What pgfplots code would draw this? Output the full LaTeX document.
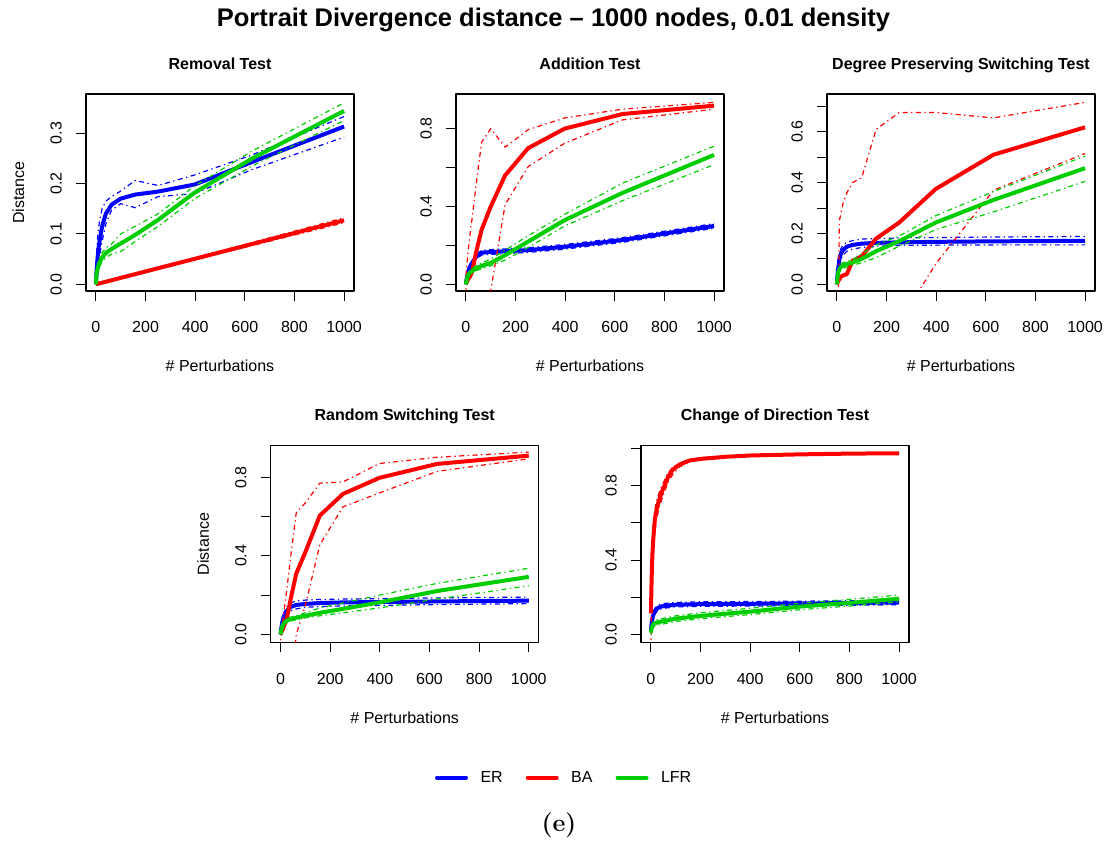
\documentclass[border=0pt]{standalone}
\usepackage{fontspec}
\usepackage{pgfplots}
\pgfplotsset{compat=1.18}
\newfontfamily\helv[Ligatures=TeX]{Liberation Sans}
\definecolor{rblue}{RGB}{0,0,255}
\definecolor{rred}{RGB}{255,0,0}
\definecolor{rgreen}{RGB}{0,205,0}
\newcommand{\lab}{\helv\fontsize{16}{19}\selectfont}
\pgfplotsset{
  panel/.style={
    scale only axis, width=268pt, height=197pt, anchor=south west,
    xmin=-40, xmax=1040,
    xtick={0,200,400,600,800,1000},
    xticklabels={0,200,400,600,800,1000},
    tick align=outside, major tick length=10pt,
    xtick pos=bottom, ytick pos=left,
    axis line style={line width=1.1pt},
    every tick/.style={black, line width=1.1pt},
    tick label style={font=\lab},
    /pgf/number format/assume math mode=true,
    xticklabel style={anchor=base, yshift=-31.7pt},
    yticklabel style={xshift=-14.3pt, rotate=90, anchor=base},
    title style={font=\helv\bfseries\fontsize{16}{19}\selectfont, at={(axis description cs:0.5,1.1254)}, anchor=base, yshift=-6pt},
    xlabel={\# Perturbations},
    xlabel style={font=\lab, at={(axis description cs:0.5,-0.411)}, anchor=base},
    ylabel style={font=\lab, at={(axis description cs:-0.231,0.5)}, anchor=base},
    line join=round,
  },
  mainline/.style={line width=4pt, line cap=butt},
  ci/.style={line width=1.2pt, dash pattern=on 1.3pt off 3.5pt on 5pt off 3.5pt},
}
\begin{document}
\begin{tikzpicture}
\path[use as bounding box] (0,0) rectangle (1108pt,850pt);
\node[anchor=base, font=\helv\bfseries\fontsize{25.5}{30}\selectfont] at (553.5pt,823.3pt) {Portrait Divergence distance – 1000 nodes, 0.01 density};
\node[anchor=base, font=\bfseries\fontsize{25}{30}\selectfont] at (559pt,18pt) {(e)};

% ---------- Removal Test ----------
\begin{axis}[panel, at={(86pt,559pt)}, title={Removal Test}, ylabel={Distance},
  ymin=-0.0133, ymax=0.3776, ytick={0,0.1,0.2,0.3}, yticklabels={0.0,0.1,0.2,0.3}]
\addplot[rblue, mainline] coordinates {(0,0) (1,0.01) (2.5,0.025) (6.3,0.05) (10,0.07) (16,0.09) (25,0.115) (40,0.14) (63,0.158) (100,0.17) (158,0.178) (251,0.184) (398,0.198) (631,0.243) (1000,0.313)};
\addplot[rblue, ci] coordinates {(0,0) (2.5,0.05) (6.3,0.09) (10,0.11) (16,0.13) (25,0.15) (40,0.165) (63,0.174) (100,0.185) (158,0.206) (251,0.196) (398,0.217) (631,0.257) (1000,0.333)};
\addplot[rblue, ci] coordinates {(0,0) (2.5,0.01) (6.3,0.025) (10,0.04) (16,0.06) (25,0.085) (40,0.12) (63,0.147) (100,0.16) (158,0.152) (251,0.174) (398,0.18) (631,0.228) (1000,0.292)};
\addplot[rred, mainline] coordinates {(0,0) (100,0.0127) (251,0.0319) (398,0.0505) (631,0.0801) (1000,0.127)};
\addplot[rred, ci] coordinates {(0,0) (100,0.0137) (251,0.0334) (398,0.0525) (631,0.0831) (1000,0.132)};
\addplot[rred, ci] coordinates {(0,0) (100,0.0117) (251,0.0304) (398,0.0485) (631,0.0771) (1000,0.122)};
\addplot[rgreen, mainline] coordinates {(0,0) (1,0.01) (2.5,0.02) (6.3,0.03) (10,0.037) (16,0.045) (25,0.053) (40,0.062) (63,0.07) (100,0.081) (158,0.098) (251,0.128) (398,0.182) (631,0.25) (1000,0.344)};
\addplot[rgreen, ci] coordinates {(0,0) (6.3,0.04) (16,0.055) (25,0.063) (40,0.072) (63,0.08) (100,0.1) (158,0.115) (251,0.14) (398,0.195) (631,0.265) (1000,0.36)};
\addplot[rgreen, ci] coordinates {(0,0) (6.3,0.02) (16,0.035) (25,0.045) (40,0.053) (63,0.06) (100,0.065) (158,0.085) (251,0.115) (398,0.17) (631,0.235) (1000,0.325)};
\end{axis}

% ---------- Addition Test ----------
\begin{axis}[panel, at={(456pt,559pt)}, title={Addition Test},
  ymin=-0.034, ymax=0.978, ytick={0,0.2,0.4,0.6,0.8}, yticklabels={0.0,,0.4,,0.8}]
\addplot[rblue, mainline] coordinates {(0,0) (1,0.01) (2.5,0.025) (6.3,0.05) (10,0.07) (16,0.09) (25,0.11) (40,0.14) (63,0.163) (100,0.166) (158,0.17) (251,0.176) (398,0.193) (631,0.228) (1000,0.3)};
\addplot[rblue, ci] coordinates {(0,0.01) (1,0.022) (2.5,0.037) (6.3,0.062) (10,0.082) (16,0.102) (25,0.122) (40,0.152) (63,0.175) (100,0.178) (158,0.182) (251,0.188) (398,0.205) (631,0.24) (1000,0.312)};
\addplot[rblue, ci] coordinates {(0,0) (1,0.0) (2.5,0.013) (6.3,0.038) (10,0.058) (16,0.078) (25,0.098) (40,0.128) (63,0.151) (100,0.154) (158,0.158) (251,0.164) (398,0.181) (631,0.216) (1000,0.288)};
\addplot[rred, mainline] coordinates {(0,0) (1,0.005) (2.5,0.01) (6.3,0.02) (10,0.03) (16,0.04) (25,0.065) (40,0.16) (63,0.28) (100,0.4) (158,0.56) (251,0.7) (398,0.8) (631,0.875) (1000,0.918)};
\addplot[rred, ci] coordinates {(0,0.02) (2.5,0.1) (6.3,0.13) (10,0.18) (16,0.25) (25,0.34) (40,0.5) (63,0.73) (100,0.8) (158,0.705) (251,0.795) (398,0.855) (631,0.9) (1000,0.935)};
\addplot[rred, ci] coordinates {(0,-0.02) (2.5,-0.05) (6.3,-0.1) (10,-0.2) (16,-0.3) (25,-0.4) (40,-0.45) (63,-0.35) (100,-0.03) (158,0.41) (251,0.605) (398,0.725) (631,0.845) (1000,0.9)};
\addplot[rgreen, mainline] coordinates {(0,0) (2.5,0.02) (6.3,0.04) (10,0.05) (16,0.06) (25,0.07) (40,0.08) (63,0.095) (100,0.11) (158,0.15) (251,0.22) (398,0.33) (631,0.47) (1000,0.665)};
\addplot[rgreen, ci] coordinates {(0,0) (6.3,0.05) (16,0.07) (25,0.08) (40,0.095) (63,0.11) (100,0.13) (158,0.175) (251,0.25) (398,0.36) (631,0.52) (1000,0.71)};
\addplot[rgreen, ci] coordinates {(0,0) (6.3,0.03) (16,0.05) (25,0.06) (40,0.07) (63,0.08) (100,0.095) (158,0.125) (251,0.19) (398,0.3) (631,0.43) (1000,0.615)};
\end{axis}

% ---------- Degree Preserving Switching Test ----------
\begin{axis}[panel, at={(827pt,559pt)}, title={Degree Preserving Switching Test},
  ymin=-0.0264, ymax=0.749, ytick={0,0.1,0.2,0.3,0.4,0.5,0.6,0.7}, yticklabels={0.0,,0.2,,0.4,,0.6,}]
\addplot[rblue, mainline] coordinates {(0,0) (1,0.02) (2.5,0.04) (6.3,0.07) (10,0.1) (16,0.12) (25,0.135) (40,0.148) (63,0.155) (100,0.16) (158,0.163) (251,0.165) (398,0.167) (631,0.169) (1000,0.171)};
\addplot[rblue, ci] coordinates {(0,0.01) (2.5,0.06) (6.3,0.09) (10,0.12) (16,0.14) (25,0.155) (40,0.165) (63,0.172) (100,0.178) (158,0.18) (251,0.182) (398,0.184) (631,0.186) (1000,0.188)};
\addplot[rblue, ci] coordinates {(0,0) (2.5,0.02) (6.3,0.05) (10,0.08) (16,0.1) (25,0.115) (40,0.13) (63,0.138) (100,0.145) (158,0.15) (251,0.153) (398,0.154) (631,0.155) (1000,0.155)};
\addplot[rred, mainline] coordinates {(0,0) (1,0.003) (2.5,0.008) (6.3,0.015) (10,0.02) (16,0.03) (25,0.035) (40,0.04) (63,0.093) (100,0.11) (158,0.18) (251,0.243) (398,0.375) (631,0.51) (1000,0.618)};
\addplot[rred, ci] coordinates {(0,-0.5) (1,-0.35) (2.5,-0.2) (6.3,-0.02) (10,0.25) (16,0.28) (25,0.32) (40,0.36) (63,0.4) (100,0.42) (158,0.61) (251,0.676) (398,0.676) (631,0.655) (1000,0.716)};
\addplot[rred, ci] coordinates {(0,-0.9) (63,-0.9) (100,-0.8) (158,-0.6) (251,-0.15) (398,0.08) (631,0.37) (1000,0.515)};
\addplot[rgreen, mainline] coordinates {(0,0) (1,0.01) (2.5,0.03) (6.3,0.05) (10,0.06) (16,0.068) (25,0.074) (40,0.08) (63,0.086) (100,0.1) (158,0.13) (251,0.17) (398,0.243) (631,0.332) (1000,0.457)};
\addplot[rgreen, ci] coordinates {(0,0.01) (6.3,0.06) (16,0.08) (25,0.085) (40,0.09) (63,0.097) (100,0.12) (158,0.155) (251,0.19) (398,0.27) (631,0.365) (1000,0.505)};
\addplot[rgreen, ci] coordinates {(0,0) (6.3,0.035) (16,0.055) (25,0.062) (40,0.068) (63,0.075) (100,0.085) (158,0.105) (251,0.15) (398,0.215) (631,0.285) (1000,0.405)};
\end{axis}

% ---------- Random Switching Test ----------
\begin{axis}[panel, at={(270.7pt,207.5pt)}, title={Random Switching Test}, ylabel={Distance},
  ymin=-0.041, ymax=0.9617, ytick={0,0.2,0.4,0.6,0.8}, yticklabels={0.0,,0.4,,0.8},
  legend columns=3,
  legend image code/.code={\draw[#1] (2pt,0pt) -- (31pt,0pt); \path (0pt,0pt) (33pt,0pt);},
  legend style={draw=none, fill=none, inner sep=0pt, outer sep=0pt, font=\lab,
    at={(axis description cs:0.6056,-0.6853)}, anchor=west,
    nodes={inner sep=0pt},
    /tikz/every odd column/.append style={column sep=10.5pt},
    /tikz/every even column/.append style={column sep=21pt}}]
\addlegendimage{rblue, line width=4pt, line cap=round}
\addlegendentry{ER}
\addlegendimage{rred, line width=4pt, line cap=round}
\addlegendentry{BA}
\addlegendimage{rgreen, line width=4pt, line cap=round}
\addlegendentry{LFR}
\addplot[rblue, mainline, forget plot] coordinates {(0,0) (1,0.01) (2.5,0.03) (6.3,0.06) (10,0.08) (16,0.1) (25,0.12) (40,0.14) (63,0.15) (100,0.155) (158,0.16) (251,0.163) (398,0.165) (631,0.168) (1000,0.172)};
\addplot[rblue, ci, forget plot] coordinates {(0,0.01) (2.5,0.05) (6.3,0.08) (10,0.1) (16,0.12) (25,0.14) (40,0.16) (63,0.17) (100,0.175) (158,0.178) (251,0.18) (398,0.182) (631,0.186) (1000,0.19)};
\addplot[rblue, ci, forget plot] coordinates {(0,0) (2.5,0.01) (6.3,0.04) (10,0.06) (16,0.08) (25,0.1) (40,0.12) (63,0.13) (100,0.138) (158,0.142) (251,0.145) (398,0.148) (631,0.152) (1000,0.157)};
\addplot[rred, mainline, forget plot] coordinates {(0,0) (1,0.005) (2.5,0.01) (6.3,0.02) (10,0.03) (16,0.05) (25,0.08) (40,0.177) (63,0.31) (100,0.42) (158,0.605) (251,0.715) (398,0.797) (631,0.868) (1000,0.91)};
\addplot[rred, ci, forget plot] coordinates {(0,-0.03) (2.5,0.0) (6.3,0.04) (10,0.08) (16,0.14) (25,0.23) (40,0.39) (63,0.62) (100,0.67) (158,0.77) (251,0.776) (398,0.87) (631,0.902) (1000,0.928)};
\addplot[rred, ci, forget plot] coordinates {(0,-0.05) (6.3,-0.2) (25,-0.4) (40,-0.3) (63,0.0) (100,0.15) (158,0.456) (251,0.649) (398,0.72) (631,0.83) (1000,0.894)};
\addplot[rgreen, mainline, forget plot] coordinates {(0,0) (2.5,0.02) (6.3,0.04) (10,0.05) (16,0.06) (25,0.07) (40,0.078) (63,0.085) (100,0.095) (158,0.11) (251,0.13) (398,0.163) (631,0.221) (1000,0.293)};
\addplot[rgreen, ci, forget plot] coordinates {(0,0.005) (6.3,0.05) (16,0.07) (25,0.08) (40,0.088) (63,0.095) (100,0.11) (158,0.135) (251,0.16) (398,0.2) (631,0.26) (1000,0.337)};
\addplot[rgreen, ci, forget plot] coordinates {(0,0) (6.3,0.03) (16,0.05) (25,0.06) (40,0.068) (63,0.075) (100,0.085) (158,0.095) (251,0.11) (398,0.135) (631,0.18) (1000,0.248)};
\end{axis}

% ---------- Change of Direction Test ----------
\begin{axis}[panel, at={(641pt,207.5pt)}, title={Change of Direction Test},
  ymin=-0.043, ymax=1.0157, ytick={0,0.2,0.4,0.6,0.8,1.0}, yticklabels={0.0,,0.4,,0.8,}]
\addplot[rblue, mainline] coordinates {(0,0.02) (2,0.05) (4,0.07) (8,0.1) (16,0.125) (25,0.14) (40,0.15) (63,0.155) (100,0.16) (200,0.163) (400,0.165) (600,0.167) (800,0.169) (1000,0.172)};
\addplot[rblue, ci] coordinates {(0,0.03) (2,0.065) (4,0.085) (8,0.115) (16,0.14) (25,0.155) (40,0.163) (63,0.168) (100,0.172) (200,0.176) (400,0.177) (600,0.179) (800,0.181) (1000,0.183)};
\addplot[rblue, ci] coordinates {(0,0.01) (2,0.035) (4,0.055) (8,0.085) (16,0.11) (25,0.125) (40,0.137) (63,0.143) (100,0.148) (200,0.151) (400,0.153) (600,0.155) (800,0.157) (1000,0.16)};
\addplot[rred, mainline] coordinates {(0,0.113) (2,0.25) (4,0.36) (6,0.43) (8,0.48) (12,0.56) (16,0.62) (21,0.66) (28,0.7) (35,0.73) (45,0.77) (55,0.8) (70,0.85) (88,0.886) (115,0.913) (155,0.935) (202,0.944) (300,0.955) (400,0.962) (600,0.968) (800,0.972) (1000,0.974)};
\addplot[rred, ci] coordinates {(0,0.15) (2,0.32) (4,0.43) (6,0.5) (8,0.55) (12,0.62) (16,0.67) (21,0.71) (28,0.74) (35,0.77) (45,0.8) (55,0.83) (70,0.87) (88,0.9) (115,0.92) (155,0.94) (202,0.948) (300,0.958) (400,0.964) (600,0.97) (800,0.974) (1000,0.976)};
\addplot[rred, ci] coordinates {(0,-0.1) (2,0.15) (4,0.28) (6,0.36) (8,0.42) (12,0.5) (16,0.56) (21,0.61) (28,0.65) (35,0.69) (45,0.73) (55,0.77) (70,0.82) (88,0.86) (115,0.9) (155,0.928) (202,0.94) (300,0.952) (400,0.96) (600,0.966) (800,0.97) (1000,0.972)};
\addplot[rgreen, mainline] coordinates {(0,0.01) (2,0.03) (4,0.04) (10,0.055) (25,0.065) (63,0.075) (100,0.085) (200,0.1) (400,0.123) (600,0.15) (800,0.17) (1000,0.192)};
\addplot[rgreen, ci] coordinates {(0,0.02) (2,0.045) (4,0.055) (10,0.07) (25,0.08) (63,0.09) (100,0.1) (200,0.117) (400,0.141) (600,0.168) (800,0.189) (1000,0.212)};
\addplot[rgreen, ci] coordinates {(0,0) (2,0.015) (4,0.025) (10,0.04) (25,0.05) (63,0.06) (100,0.07) (200,0.085) (400,0.107) (600,0.133) (800,0.153) (1000,0.175)};
\end{axis}
\end{tikzpicture}
\end{document}
